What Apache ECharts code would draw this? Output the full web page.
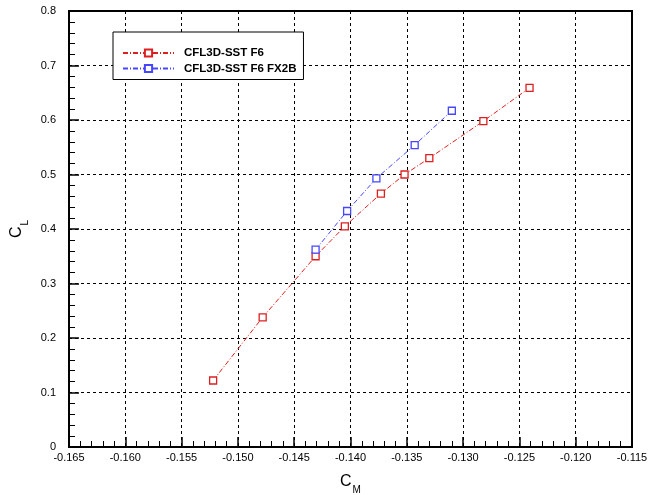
<!DOCTYPE html>
<html>
<head>
<meta charset="utf-8">
<script src="https://cdn.jsdelivr.net/npm/echarts@6/dist/echarts.min.js"></script>
<style>html,body{margin:0;padding:0;background:#fff}#c{width:663px;height:495px}</style>
</head>
<body>
<div id="c"></div>
<script>
var seriesNames = ['CFL3D-SST F6', 'CFL3D-SST F6 FX2B'];
var cmF6 = [-0.1522, -0.1478, -0.1431, -0.1405, -0.1373, -0.1352, -0.1330, -0.1282, -0.1241];
var clF6 = [0.122, 0.238, 0.350, 0.405, 0.465, 0.500, 0.530, 0.598, 0.659];
var cmFX2B = [-0.1431, -0.1403, -0.1377, -0.1343, -0.1310];
var clFX2B = [0.362, 0.433, 0.493, 0.554, 0.617];
var xTicks = {min: -0.165, max: -0.115, step: 0.005};
var yTicks = {min: 0, max: 0.8, step: 0.1};

function pairs(xs, ys) { return xs.map(function (x, i) { return [x, ys[i]]; }); }

var FONT = '"Liberation Sans", Arial, Helvetica, sans-serif';
var colors = ['#dd1f1f', '#4646ff'];

var chart = echarts.init(document.getElementById('c'), null, {renderer: 'canvas'});
function mkSeries(name, data, color) {
  return {
    name: name, type: 'line', data: data,
    symbol: 'rect', symbolSize: 7,
    itemStyle: {color: '#fff', borderColor: color, borderWidth: 1.3},
    lineStyle: {color: color, width: 1, type: [5, 2, 1, 2]},
    emphasis: {disabled: true}
  };
}
var nameRich = {
  c: {fontFamily: FONT, fontSize: 16, color: '#000', verticalAlign: 'bottom', lineHeight: 20},
  s: {fontFamily: FONT, fontSize: 10, color: '#000', verticalAlign: 'bottom', lineHeight: 14, padding: [0, 0, -5, 1]}
};
chart.setOption({
  animation: false,
  grid: {left: 69, right: 31, top: 11, bottom: 48, containLabel: false, outerBoundsMode: 'none', show: true, borderColor: '#000', borderWidth: 2, backgroundColor: 'transparent'},
  legend: {
    orient: 'vertical', left: 113, top: 32,
    padding: [15, 7, 5, 9],
    itemWidth: 51, itemHeight: 9, itemGap: 3.5,
    backgroundColor: '#fff', borderColor: '#000', borderWidth: 1,
    textStyle: {fontFamily: FONT, fontWeight: 'bold', fontSize: 11.5, color: '#000', padding: [0, 0, 0, 5]},
    data: seriesNames
  },
  xAxis: {
    type: 'value', min: xTicks.min, max: xTicks.max, interval: xTicks.step,
    name: '{c|C}{s|M}', nameLocation: 'middle', nameGap: 23,
    nameTextStyle: {rich: nameRich},
    axisLine: {show: true, onZero: false, lineStyle: {color: '#000', width: 2}},
    axisTick: {show: true, inside: true, length: 10, lineStyle: {color: '#000', width: 1.5}},
    minorTick: {show: true, splitNumber: 5, length: 6, lineStyle: {color: '#000', width: 1}},
    axisLabel: {fontFamily: FONT, fontSize: 11, color: '#000', margin: 5, formatter: function (v) { return v.toFixed(3); }},
    splitLine: {show: true, lineStyle: {color: '#000', width: 1, type: [3, 3]}}
  },
  yAxis: {
    type: 'value', min: yTicks.min, max: yTicks.max, interval: yTicks.step,
    name: '{c|C}{s|L}', nameLocation: 'middle', nameGap: 42, nameRotate: 90,
    nameTextStyle: {rich: nameRich},
    axisLine: {show: true, onZero: false, lineStyle: {color: '#000', width: 2}},
    axisTick: {show: true, inside: true, length: 10, lineStyle: {color: '#000', width: 1.5}},
    minorTick: {show: true, splitNumber: 5, length: 6, lineStyle: {color: '#000', width: 1}},
    axisLabel: {fontFamily: FONT, fontSize: 11, color: '#000', margin: 13, formatter: function (v) { return v === 0 ? '0' : v.toFixed(1); }},
    splitLine: {show: true, lineStyle: {color: '#000', width: 1, type: [3, 3]}}
  },
  series: [
    mkSeries(seriesNames[0], pairs(cmF6, clF6), colors[0]),
    mkSeries(seriesNames[1], pairs(cmFX2B, clFX2B), colors[1])
  ]
});
</script>
</body>
</html>
